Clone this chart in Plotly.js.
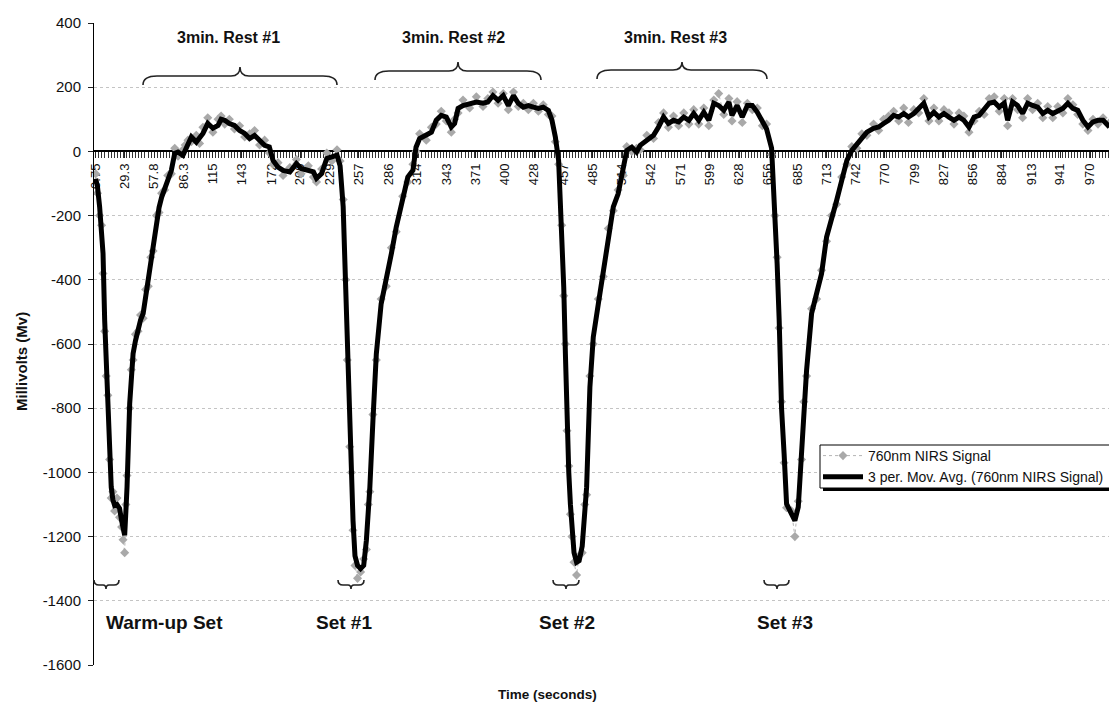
<!DOCTYPE html>
<html>
<head>
<meta charset="utf-8">
<script src="https://cdn.plot.ly/plotly-3.0.1.min.js"></script>
<style>html,body{margin:0;padding:0;background:#fff;}#chart{width:1109px;height:706px;}</style>
</head>
<body>
<div id="chart"></div>
<script>
// ---------- DATA ----------
const timeSec = [0.75,2.5,4.6,6.5,7.9,9.5,11,12.6,14.3,15.9,17.5,19.2,21.5,24,26,27.4,29,30.2,31.3,33.9,35.5,37.2,39.5,42,44.5,47,49.5,52,54.5,56.7,60,62.5,65,68,71,74.5,77.8,81,85.8,88,90.7,94,98.8,102,105.3,110,115,120,123,126.5,131,136,141,146,150.8,155.6,160.5,165.4,170,173.6,178.5,183.4,190,196.4,201,208,213,216,221,226,231,236,239,242,244.5,246,248.4,250,251.6,253.5,256,259,262,264.6,266.5,268,271,274.3,279,284,289,293.7,300,305,310,313,316.5,323,328,332.7,337.6,342.5,347.4,350.6,354,358.8,365.3,371.8,378.3,383,388,393,398,403,408,412.7,417.6,422.5,427.4,432.3,437,442,445.5,448.8,452,455,457,458.6,460.2,461.9,463.5,465,467,469.5,472,475,477.5,479.3,482.5,485.8,490.7,495.5,500.4,505.3,510,515,518.4,523.3,528,531.5,538,544.5,549.4,554.3,559,564,569,574,579,583.7,588.6,593.5,598.4,603.3,608,613,618,621,626,631,636,640.8,645.7,650.6,654.7,659.6,662.8,665,667,669.3,671.8,674.2,679,682.3,685.6,688.8,691,693.7,698.6,703.5,708.3,713.2,718,723,728,733,737.8,742.7,747.6,752.5,759,764,768.8,773.7,778.6,783.5,788.4,793,798.2,803,808,813,817.8,822.7,827.6,832.5,837.4,842.3,847,852,857,862,866.8,871.7,876.6,881.5,886.4,889.7,894.5,899.4,904.3,909.2,914,919,924,928.8,933.7,938.6,943.5,948.4,953.3,958,963,968,972.9,977.8,982.7,989];

const movAvg = [-85,-110,-173,-250,-318,-526,-660,-785,-920,-1046,-1085,-1103,-1100,-1112,-1150,-1180,-1196,-1120,-1046,-785,-700,-630,-590,-548,-525,-505,-450,-402,-350,-298,-215,-175,-143,-115,-90,-59,-6,-2,-12,5,19,45,29,40,56,87,72,81,100,97,87,81,65,56,40,50,34,19,14,-28,-49,-59,-64,-38,-53,-59,-64,-84,-69,-22,-18,-12,-45,-173,-430,-600,-890,-1030,-1150,-1260,-1290,-1300,-1290,-1212,-1120,-1046,-838,-631,-475,-402,-318,-236,-153,-80,-59,13,40,50,60,97,112,107,76,87,134,143,150,154,150,154,174,159,174,143,174,150,138,143,138,134,138,128,97,45,-28,-250,-423,-630,-838,-1000,-1100,-1180,-1250,-1280,-1275,-1230,-1120,-1046,-734,-578,-475,-371,-256,-173,-132,-59,3,13,-2,19,34,50,76,107,87,97,92,107,97,118,97,122,97,150,143,128,154,112,143,107,143,143,122,92,70,10,-180,-350,-526,-800,-942,-1098,-1129,-1150,-1108,-942,-800,-682,-505,-443,-381,-267,-215,-153,-90,-28,3,24,40,60,72,76,87,97,112,107,118,107,118,134,150,107,122,107,118,107,97,107,97,76,107,112,128,150,154,138,150,97,154,143,118,150,143,138,118,128,118,128,134,150,134,128,97,76,92,97,97,76];

const rawSignal = [-70,-130,-200,-230,-380,-560,-700,-760,-960,-1080,-1060,-1120,-1080,-1140,-1170,-1210,-1250,-1100,-1010,-800,-680,-650,-570,-560,-510,-520,-430,-420,-330,-310,-200,-190,-130,-120,-75,-70,10,-15,5,20,35,30,50,25,75,105,60,100,110,85,100,70,80,45,55,65,20,35,-5,-40,-35,-75,-50,-25,-70,-45,-80,-95,-55,-5,-30,5,-30,-150,-400,-650,-920,-1000,-1180,-1290,-1330,-1310,-1270,-1240,-1100,-1060,-820,-650,-460,-420,-300,-250,-140,-95,-40,0,55,35,75,85,125,95,60,100,120,160,135,170,140,165,185,150,180,130,185,140,150,130,150,125,145,115,110,30,-40,-230,-450,-600,-870,-980,-1130,-1200,-1280,-1320,-1260,-1250,-1100,-1070,-700,-600,-460,-390,-240,-185,-120,-75,15,0,10,5,50,40,90,120,75,110,80,120,85,130,85,135,80,160,180,115,165,95,155,90,150,130,135,80,85,-10,-200,-330,-550,-780,-970,-1110,-1120,-1200,-1090,-960,-780,-700,-490,-460,-370,-280,-200,-165,-80,-40,15,10,55,50,85,65,100,110,125,95,135,90,130,120,165,95,135,95,130,120,85,120,110,60,95,125,115,165,170,125,165,80,165,130,105,165,130,150,105,140,105,140,120,165,145,115,85,65,100,85,105,90];

const xTickVals = [0.75,29.3,57.8,86.3,115,143,172,200,229,257,286,314,343,371,400,428,457,485,514,542,571,599,628,656,685,713,742,770,799,827,856,884,913,941,970];
const xTickText = ["0.75","29.3","57.8","86.3","115","143","172","200","229","257","286","314","343","371","400","428","457","485","514","542","571","599","628","656","685","713","742","770","799","827","856","884","913","941","970"];
const yTickVals = [400,200,0,-200,-400,-600,-800,-1000,-1200,-1400,-1600];
const yTickText = ["400","200","0","-200","-400","-600","-800","-1000","-1200","-1400","-1600"];

const seriesNames = ["760nm NIRS Signal","3 per. Mov. Avg. (760nm NIRS Signal)"];
const restLabels = ["3min. Rest #1","3min. Rest #2","3min. Rest #3"];
const setLabels = ["Warm-up Set","Set #1","Set #2","Set #3"];

// ---------- LAYOUT HELPERS (pixel -> paper) ----------
const L = 94, T = 23, W = 1015, H = 642;
const px = v => (v - L) / W;
const py = v => (T + H - v) / H;
const f = n => n.toFixed(5);

function topBrace(x0, x1, xc, yEnd, yFlat, yPeak) {
  return `M ${f(px(x0))},${f(py(yEnd))} Q ${f(px(x0))},${f(py(yFlat))} ${f(px(x0+14))},${f(py(yFlat))} ` +
         `L ${f(px(xc-9))},${f(py(yFlat))} Q ${f(px(xc))},${f(py(yFlat))} ${f(px(xc))},${f(py(yPeak))} ` +
         `Q ${f(px(xc))},${f(py(yFlat))} ${f(px(xc+9))},${f(py(yFlat))} ` +
         `L ${f(px(x1-14))},${f(py(yFlat))} Q ${f(px(x1))},${f(py(yFlat))} ${f(px(x1))},${f(py(yEnd))}`;
}
function bottomBrace(x0, x1, xc, yTop, yB, yTip) {
  return `M ${f(px(x0))},${f(py(yTop))} Q ${f(px(x0))},${f(py(yB))} ${f(px(x0+5))},${f(py(yB))} ` +
         `L ${f(px(xc-3))},${f(py(yB))} Q ${f(px(xc))},${f(py(yB))} ${f(px(xc))},${f(py(yTip))} ` +
         `Q ${f(px(xc))},${f(py(yB))} ${f(px(xc+3))},${f(py(yB))} ` +
         `L ${f(px(x1-5))},${f(py(yB))} Q ${f(px(x1))},${f(py(yB))} ${f(px(x1))},${f(py(yTop))}`;
}

const braceLine = {color: '#222', width: 1.6};
const shapes = [
  {type:'path', xref:'paper', yref:'paper', path: topBrace(143, 337, 240, 85, 76, 67), line: braceLine},
  {type:'path', xref:'paper', yref:'paper', path: topBrace(375, 541, 458, 80, 71, 62), line: braceLine},
  {type:'path', xref:'paper', yref:'paper', path: topBrace(597, 767, 682, 79, 70, 62), line: braceLine},
  {type:'path', xref:'paper', yref:'paper', path: bottomBrace(94, 119, 106, 580, 585, 589), line: braceLine},
  {type:'path', xref:'paper', yref:'paper', path: bottomBrace(338, 364, 351, 580, 585, 589), line: braceLine},
  {type:'path', xref:'paper', yref:'paper', path: bottomBrace(553, 579, 566, 580, 585, 589), line: braceLine},
  {type:'path', xref:'paper', yref:'paper', path: bottomBrace(764, 789, 777, 580, 585, 589), line: braceLine},
  // legend frame with Excel-style drop shadow
  {type:'rect', xref:'paper', yref:'paper', x0: px(823), x1: px(1112), y0: py(491), y1: py(448), fillcolor:'#000', line:{width:0}},
  {type:'rect', xref:'paper', yref:'paper', x0: px(820), x1: px(1109.5), y0: py(488), y1: py(445), fillcolor:'#fff', line:{color:'#000', width:1}}
];

const FONT = '"Liberation Sans", Arial, sans-serif';
const boldAnn = (text, x, y, size, extra) => Object.assign({
  text: '<b>' + text + '</b>', xref:'paper', yref:'paper', x: px(x), y: py(y),
  xanchor:'center', yanchor:'middle', showarrow:false,
  font:{family: FONT, size: size, color:'#111'}
}, extra || {});

const annotations = [
  boldAnn(restLabels[0], 228, 38, 16),
  boldAnn(restLabels[1], 453, 38, 16),
  boldAnn(restLabels[2], 675, 38, 16),
  boldAnn(setLabels[0], 164, 622, 19),
  boldAnn(setLabels[1], 344, 622, 19),
  boldAnn(setLabels[2], 567, 622, 19),
  boldAnn(setLabels[3], 785, 622, 19),
  boldAnn('Time (seconds)', 547, 694, 13.5),
  boldAnn('Millivolts (Mv)', 21, 362, 15, {textangle: -90})
];

const traces = [
  {
    type:'scatter', mode:'lines+markers', name: seriesNames[0],
    x: timeSec, y: rawSignal,
    line:{color:'#b4b4b4', width:1, dash:'dot'},
    marker:{symbol:'diamond', size:7, color:'#a9a9a9', line:{width:0}}
  },
  {
    type:'scatter', mode:'lines', name: seriesNames[1],
    x: timeSec, y: movAvg,
    line:{color:'#000', width:5}
  }
];

const layout = {
  width:1109, height:706,
  margin:{l:L, r:0, t:T, b:706 - T - H, pad:0},
  paper_bgcolor:'#fff', plot_bgcolor:'#fff',
  font:{family: FONT, color:'#111'},
  showlegend:true,
  legend:{
    x:1, xanchor:'right', y: py(440), yanchor:'top',
    bgcolor:'rgba(0,0,0,0)', borderwidth:0,
    font:{family: FONT, size:14, color:'#111'},
    tracegroupgap:0, itemwidth:40
  },
  xaxis:{
    range:[-0.9, 988.5], anchor:'free', position:0.8,
    tickmode:'array', tickvals:xTickVals, ticktext:xTickText, tickangle:-90,
    ticks:'outside', ticklen:6, tickwidth:1, tickcolor:'#222',
    showline:true, linecolor:'#000', linewidth:2,
    showgrid:false, zeroline:false, layer:'below traces',
    tickfont:{family: FONT, size:13, color:'#111'},
    minor:{ticks:'outside', ticklen:6, tickwidth:1, tickcolor:'#333', tickmode:'linear', tick0:0.75, dtick:3, showgrid:false}
  },
  yaxis:{
    range:[-1600, 400], tickmode:'array', tickvals:yTickVals, ticktext:yTickText,
    ticks:'outside', ticklen:5, tickcolor:'#222',
    showline:true, linecolor:'#000', linewidth:1,
    showgrid:true, gridcolor:'#c4c4c4', griddash:'dot', gridwidth:1,
    zeroline:false, tickfont:{family: FONT, size:15, color:'#111'}, ticklabelstandoff:4
  },
  shapes: shapes,
  annotations: annotations
};

Plotly.newPlot('chart', traces, layout, {displayModeBar:false, staticPlot:true});
</script>
</body>
</html>
